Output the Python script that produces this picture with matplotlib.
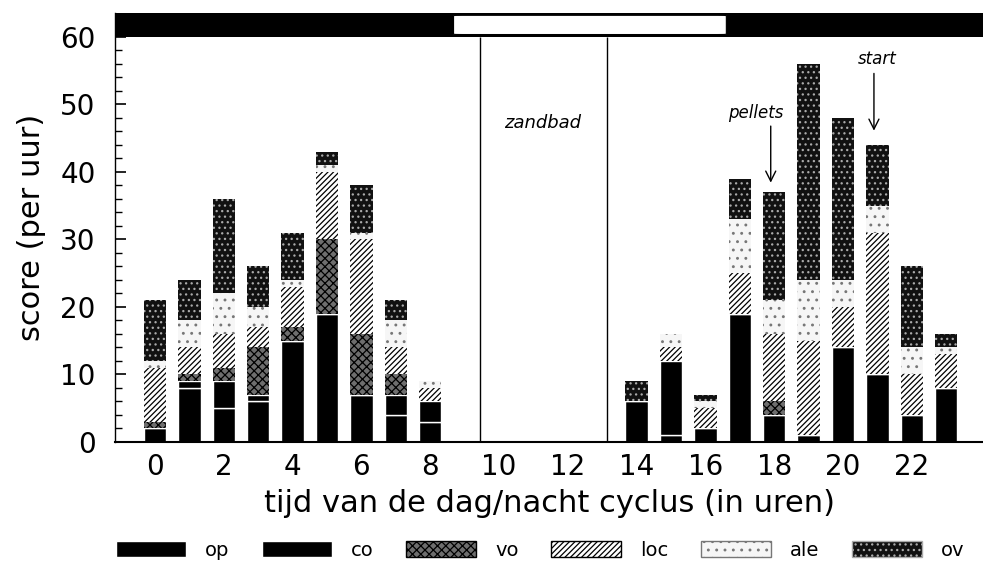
import numpy as np
import matplotlib

matplotlib.use('Agg')
import matplotlib.pyplot as plt
from matplotlib.patches import Rectangle, FancyBboxPatch, Patch
from matplotlib.ticker import MultipleLocator

plt.rcParams['font.family'] = ['DejaVu Sans']
plt.rcParams['hatch.linewidth'] = 0.9

# uren van de dag/nacht cyclus
hours = list(range(24))
# scores per categorie (per uur), van onder naar boven gestapeld
op = [2, 8, 5, 6, 15, 19, 7, 4, 3, 0, 0, 0, 0, 0, 6, 1, 2, 19, 4, 1, 14, 10, 4, 8]
co = [0, 1, 4, 1, 0, 0, 0, 3, 3, 0, 0, 0, 0, 0, 0, 11, 0, 0, 0, 0, 0, 0, 0, 0]
vo = [1, 1, 2, 7, 2, 11, 9, 3, 0, 0, 0, 0, 0, 0, 0, 0, 0, 0, 2, 0, 0, 0, 0, 0]
loc = [8, 4, 5, 3, 6, 10, 14, 4, 2, 0, 0, 0, 0, 0, 0, 2, 3, 6, 10, 14, 6, 21, 6, 5]
ale = [1, 4, 6, 3, 1, 1, 1, 4, 1, 0, 0, 0, 0, 0, 0, 2, 1, 8, 5, 9, 4, 4, 4, 1]
ov = [9, 6, 14, 6, 7, 2, 7, 3, 0, 0, 0, 0, 0, 0, 3, 0, 1, 6, 16, 32, 24, 9, 12, 2]

series = [('op', op), ('co', co), ('vo', vo), ('loc', loc), ('ale', ale), ('ov', ov)]

# stijl per categorie (zwart-wit)
styles = {
    'op': dict(facecolor='black', edgecolor='white', linewidth=1.0, hatch=None),
    'co': dict(facecolor='black', edgecolor='white', linewidth=1.0, hatch=None),
    'vo': dict(facecolor='#6e6e6e', edgecolor='black', linewidth=0, hatch='xxxx'),
    'loc': dict(facecolor='white', edgecolor='black', linewidth=0, hatch='//////'),
    'ale': dict(facecolor='#f6f6f6', edgecolor='#777777', linewidth=0, hatch='..'),
    'ov': dict(facecolor='#111111', edgecolor='#aaaaaa', linewidth=0, hatch='...'),
}

fig = plt.figure(figsize=(9.83, 5.77), dpi=100)
ax = fig.add_axes([0.117, 0.234, 0.883, 0.743])

x = np.array(hours)
bottom = np.zeros(len(hours))
for name, vals in series:
    vals = np.array(vals, dtype=float)
    ax.bar(x, vals, width=0.65, bottom=bottom, **styles[name])
    bottom += vals

x0, x1 = -1.16, 24.07
ax.set_xlim(x0, x1)
ax.set_ylim(0, 63.5)

# licht/donker balk bovenaan
ax.add_patch(Rectangle((x0, 60.05), x1 - x0, 3.45, facecolor='black', edgecolor='none', clip_on=False))
ax.add_patch(FancyBboxPatch((8.68, 60.35), 7.93, 2.85, boxstyle='round,pad=0,rounding_size=0.25',
                            facecolor='white', edgecolor='black', linewidth=0.8, mutation_aspect=1 / 5))

# zandbad periode
ax.vlines([9.45, 13.14], 0, 60, colors='black', linewidth=1.0)
ax.text(11.28, 47.2, 'zandbad', ha='center', va='center', fontsize=13, style='italic')

ax.annotate('', xy=(17.9, 38.0), xytext=(17.9, 47.2),
            arrowprops=dict(arrowstyle='->', color='black', lw=1.0, mutation_scale=18))
ax.text(17.47, 48.8, 'pellets', ha='center', va='center', fontsize=12, style='italic')
ax.annotate('', xy=(20.9, 45.7), xytext=(20.9, 55.0),
            arrowprops=dict(arrowstyle='->', color='black', lw=1.0, mutation_scale=18))
ax.text(21.0, 56.8, 'start', ha='center', va='center', fontsize=12, style='italic')

for s in ['top', 'right']:
    ax.spines[s].set_visible(False)
ax.spines['left'].set_linewidth(1.0)
ax.spines['bottom'].set_linewidth(1.5)

ax.set_yticks(range(0, 61, 10))
ax.yaxis.set_minor_locator(MultipleLocator(2))
ax.tick_params(axis='y', which='major', direction='in', length=8, width=1.2, labelsize=20, pad=14)
ax.tick_params(axis='y', which='minor', direction='in', length=5, width=1.0)
ax.set_xticks(range(0, 23, 2))
ax.tick_params(axis='x', length=0, labelsize=20, pad=8)

ax.set_ylabel('score (per uur)', fontsize=22, labelpad=10)
ax.set_xlabel('tijd van de dag/nacht cyclus (in uren)', fontsize=22, labelpad=6)

handles = [Patch(label=name, **{k: v for k, v in styles[name].items() if k != 'linewidth'}) for name, _ in series]
fig.legend(handles=handles, loc='lower left', bbox_to_anchor=(0.10, 0.0), ncol=6, frameon=False,
           fontsize=14, handlelength=3.6, handleheight=0.9, handletextpad=1.0, columnspacing=1.65)

fig.savefig('out.png', dpi=100)
